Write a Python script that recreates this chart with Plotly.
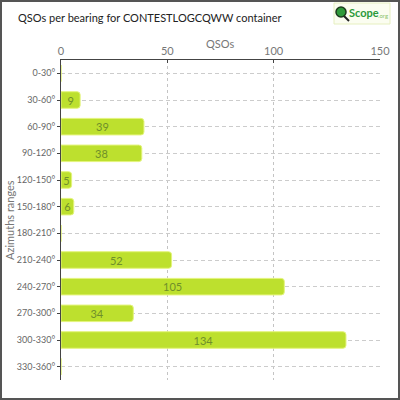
import plotly.graph_objects as go

categories = ["0-30°", "30-60°", "60-90°", "90-120°", "120-150°", "150-180°",
              "180-210°", "210-240°", "240-270°", "270-300°", "300-330°", "330-360°"]
qsos = [0, 9, 39, 38, 5, 6, 0, 52, 105, 34, 134, 0]
x_ticks = [0, 50, 100, 150]

W, H = 400, 400
L, R, T, B = 61, 20, 60, 20
pw, ph = W - L - R, H - T - B

def px(x):
    return (x - L) / pw

def py(y):
    return (H - B - y) / ph

FONT = "Lato"

fig = go.Figure()
fig.add_trace(go.Bar(
    x=qsos, y=categories, orientation="h",
    marker=dict(color="#bde02e", line=dict(color="#e4f47c", width=1), cornerradius=3),
    width=0.62,
    text=[str(v) if v else "" for v in qsos],
    textposition="inside", insidetextanchor="middle", constraintext="none",
    textangle=0,
    textfont=dict(family=FONT, size=11, color="#6f8f2a"),
    hoverinfo="skip",
))

shapes = [
    dict(type="rect", xref="paper", yref="paper", x0=px(1), x1=px(399), y0=py(399), y1=py(1),
         line=dict(color="#555555", width=2), fillcolor="rgba(0,0,0,0)", layer="above"),
    dict(type="rect", xref="paper", yref="paper", x0=px(334), x1=px(390), y0=py(24), y1=py(3),
         line=dict(color="#e6efc0", width=1), fillcolor="#fbfdf0", layer="above"),
    dict(type="line", xref="paper", yref="paper", x0=px(343), x1=px(349), y0=py(15), y1=py(21),
         line=dict(color="#222222", width=2), layer="above"),
    dict(type="circle", xref="paper", yref="paper", x0=px(336), x1=px(346), y0=py(17), y1=py(7),
         line=dict(color="#1c3a1c", width=1.5), fillcolor="#2f9a3a", layer="above"),
]

annotations = [
    dict(text="QSOs per bearing for CONTESTLOGCQWW container", xref="paper", yref="paper",
         x=px(16), y=py(17), xanchor="left", yanchor="middle", showarrow=False,
         font=dict(family=FONT, size=11, color="#222222")),
    dict(text="<b>Scope</b>", xref="paper", yref="paper", x=px(347), y=py(12),
         xanchor="left", yanchor="middle", showarrow=False,
         font=dict(family=FONT, size=11, color="#2a9a3a")),
    dict(text=".org", xref="paper", yref="paper", x=px(376), y=py(15),
         xanchor="left", yanchor="middle", showarrow=False,
         font=dict(family=FONT, size=6, color="#8cc46a")),
    dict(text="QSOs", xref="paper", yref="paper", x=px(220), y=py(44),
         xanchor="center", yanchor="middle", showarrow=False,
         font=dict(family=FONT, size=11, color="#777777")),
    dict(text="Azimuths ranges", xref="paper", yref="paper", x=px(9), y=py(220),
         xanchor="center", yanchor="middle", showarrow=False, textangle=-90,
         font=dict(family=FONT, size=11, color="#777777")),
]

fig.update_layout(
    width=W, height=H,
    margin=dict(l=L, r=R, t=T, b=B, autoexpand=False),
    paper_bgcolor="white", plot_bgcolor="white",
    showlegend=False,
    shapes=shapes,
    annotations=annotations,
    xaxis=dict(
        side="top", range=[0, 150], tickvals=x_ticks, ticktext=[str(t) for t in x_ticks],
        automargin=False,
        showline=True, linecolor="#444444", linewidth=1,
        showgrid=True, gridcolor="#c4c4c4", griddash="3px,3px", gridwidth=1,
        zeroline=False, ticks="inside", ticklen=3, tickcolor="#444444",
        tickfont=dict(family=FONT, size=11, color="#777777"),
    ),
    yaxis=dict(
        autorange="reversed", categoryorder="array", categoryarray=categories,
        automargin=False,
        showline=True, linecolor="#444444", linewidth=1,
        showgrid=True, gridcolor="#cccccc", griddash="4px,3px", gridwidth=1,
        ticks="outside", ticklen=3, tickcolor="#444444",
        tickfont=dict(family=FONT, size=9, color="#666666"),
    ),
)

fig.write_html("out.html", config={"displayModeBar": False},
               post_script="document.body.style.margin='0';")
